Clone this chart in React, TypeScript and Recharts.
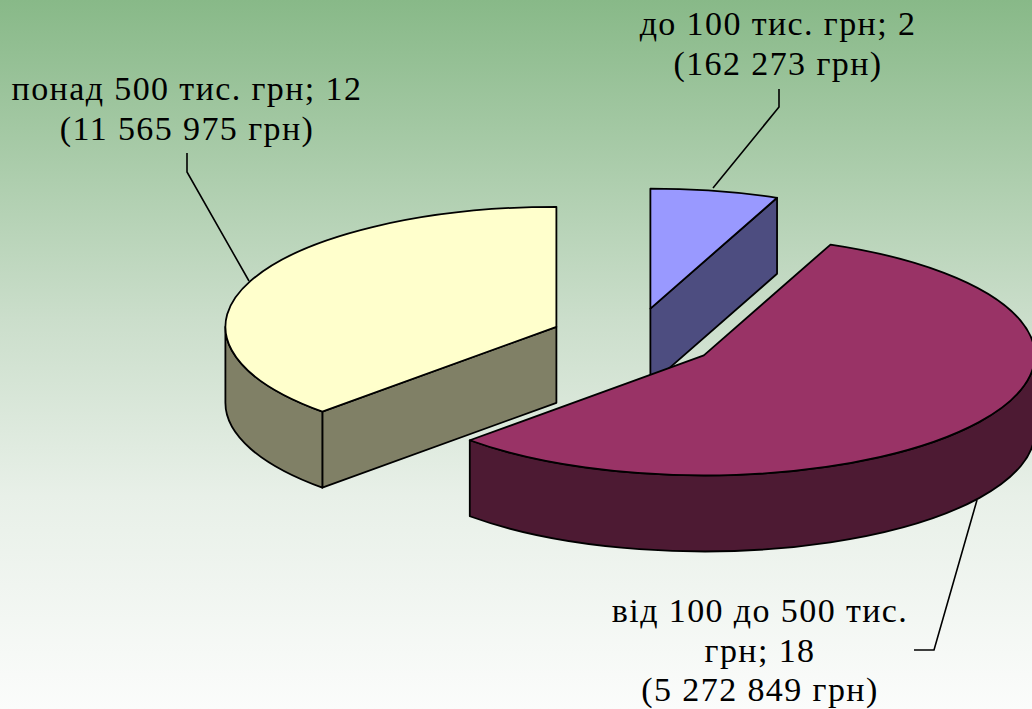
import React from 'react';
import { PieChart, Pie } from 'recharts';

const categories = ['до 100 тис. грн', 'від 100 до 500 тис. грн', 'понад 500 тис. грн'];
const counts = [2, 18, 12];
const amounts = ['162 273 грн', '5 272 849 грн', '11 565 975 грн'];
const topColors = ['#9999ff', '#993366', '#ffffcc'];
const sideColors = ['#4d4d80', '#4d1a33', '#808066'];
const labelLines = [
  ['до 100 тис. грн; 2', '(162 273 грн)'],
  ['від 100 до 500 тис.', 'грн; 18', '(5 272 849 грн)'],
  ['понад 500 тис. грн; 12', '(11 565 975 грн)'],
];
const labelX = [778, 760, 187];
const labelY = [35, 622, 100];
const labelStep = [40, 39.5, 40];
const leaders = [
  '779,89 779,107 713,188',
  '914,650 934,650 977,500',
  '187,153 187,172 249,281',
];

const W = 1032;
const H = 709;
const RX = 331;
const TILT = 120 / 331;
const DEPTH = 76;
const EXPLODE = 84;

const data = categories.map((name, i) => ({ name, count: counts[i], amount: amounts[i] }));
const rad = (d: number) => (d * Math.PI) / 180;

function Slice3D(props: any) {
  const { cx, cy, outerRadius, startAngle, endAngle, index } = props;
  const rx = outerRadius ?? RX;
  const ry = rx * TILT;
  const a0 = 90 - startAngle;
  const a1 = 90 - endAngle;
  const mid = rad((a0 + a1) / 2);
  const ox = cx + EXPLODE * Math.sin(mid);
  const oy = cy - EXPLODE * TILT * Math.cos(mid);
  const pt = (a: number, dz = 0): [number, number] => [
    ox + rx * Math.sin(rad(a)),
    oy - ry * Math.cos(rad(a)) + dz,
  ];
  const arc = (a: number, b: number, dz = 0) => {
    const [x, y] = pt(b, dz);
    return `A ${rx} ${ry} 0 ${b - a > 180 ? 1 : 0} 1 ${x} ${y}`;
  };
  const arcBack = (a: number, b: number, dz = 0) => {
    const [x, y] = pt(b, dz);
    return `A ${rx} ${ry} 0 ${a - b > 180 ? 1 : 0} 0 ${x} ${y}`;
  };
  const side = sideColors[index];
  const stroke = { stroke: '#000', strokeWidth: 1.8, strokeLinejoin: 'round' as const };
  const faces: React.ReactNode[] = [];
  const quad = (a: number, key: string) => {
    const [x, y] = pt(a);
    faces.push(
      <path
        key={key}
        d={`M ${ox} ${oy} L ${x} ${y} L ${x} ${y + DEPTH} L ${ox} ${oy + DEPTH} Z`}
        fill={side}
        {...stroke}
      />,
    );
  };
  if (Math.sin(rad(a0)) < -1e-6) quad(a0, 'start');
  if (Math.sin(rad(a1)) > 1e-6) quad(a1, 'end');
  const r0 = Math.max(a0, 90);
  const r1 = Math.min(a1, 270);
  if (r1 > r0) {
    const [sx, sy] = pt(r0);
    const [ex, ey] = pt(r1, DEPTH);
    faces.push(
      <path
        key="rim"
        d={`M ${sx} ${sy} ${arc(r0, r1)} L ${ex} ${ey} ${arcBack(r1, r0, DEPTH)} Z`}
        fill={side}
        {...stroke}
      />,
    );
  }
  const [tx, ty] = pt(a0);
  return (
    <g>
      {faces}
      <path d={`M ${ox} ${oy} L ${tx} ${ty} ${arc(a0, a1)} Z`} fill={topColors[index]} {...stroke} />
    </g>
  );
}

function SliceLabel(props: any) {
  const { index } = props;
  return (
    <g>
      <polyline points={leaders[index]} fill="none" stroke="#000" strokeWidth={1.6} />
      <text
        textAnchor="middle"
        fontFamily="'Liberation Serif', serif"
        fontSize={34}
        fill="#000"
        style={{ letterSpacing: 1.4 }}
      >
        {labelLines[index].map((line, i) => (
          <tspan key={i} x={labelX[index]} y={labelY[index] + i * labelStep[index]}>
            {line}
          </tspan>
        ))}
      </text>
    </g>
  );
}

export default function App() {
  return (
    <div
      style={{
        position: 'absolute',
        left: 0,
        top: 0,
        width: W,
        height: H,
        overflow: 'hidden',
        background: 'linear-gradient(180deg, #88b988 0%, #cbdecb 45%, #e8f0e8 70%, #fbfcfb 100%)',
      }}
    >
      <PieChart width={W} height={H} margin={{ top: 0, right: 0, bottom: 0, left: 0 }}>
        <Pie
          data={data}
          dataKey="count"
          nameKey="name"
          cx={634}
          cy={338.5}
          outerRadius={RX}
          startAngle={90}
          endAngle={-270}
          paddingAngle={0}
          isAnimationActive={false}
          shape={Slice3D}
          label={SliceLabel}
          labelLine={false}
        />
      </PieChart>
    </div>
  );
}
